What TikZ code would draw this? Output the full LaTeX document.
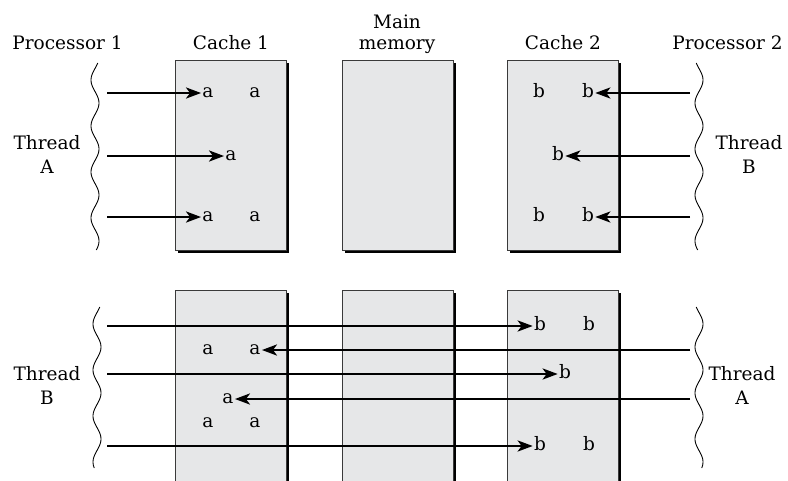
\documentclass[tikz,border=0pt]{standalone}
\usepackage{fontspec}
\setmainfont{DejaVu Serif}
\usetikzlibrary{arrows.meta,shadows}
\definecolor{boxfill}{HTML}{E6E7E8}
\definecolor{boxline}{HTML}{3A3A3A}
\tikzset{
  lbl/.style={font=\fontsize{18.5}{24}\selectfont, inner sep=0pt, anchor=base},
  letter/.style={font=\fontsize{18.5}{24}\selectfont, inner sep=1.2pt, text height=9.6pt, text depth=0pt, anchor=center},
  membox/.style={rectangle, fill=boxfill, draw=boxline, line width=0.9pt, inner sep=0pt, outer sep=0pt,
     minimum width=111pt, general shadow={fill=black, shadow xshift=3pt, shadow yshift=-3pt}},
  topbox/.style={membox, minimum height=190pt},
  botbox/.style={membox, minimum height=200pt},
  arr/.style={line width=2.7pt, -{Stealth[length=15pt,width=11pt,inset=4pt]}},
  wave/.style={line width=0.9pt, black}
}
\begin{document}
\begin{tikzpicture}[x=1pt,y=-1pt]
\useasboundingbox (0,0) rectangle (788,480);
% boxes top
\node[topbox] (c1t) at (230.5,155) {};
\node[topbox] (mmt) at (397.5,155) {};
\node[topbox] (c2t) at (562.5,155) {};
% boxes bottom
\node[botbox] (c1b) at (230.5,390) {};
\node[botbox] (mmb) at (397.5,390) {};
\node[botbox] (c2b) at (562.5,390) {};
% labels
\node[lbl] (p1) at (67.5,49) {Processor 1};
\node[lbl] (lc1) at (231,49) {Cache 1};
\node[lbl] (lmain) at (397,28) {Main};
\node[lbl] (lmem) at (397,49) {memory};
\node[lbl] (lc2) at (563,49) {Cache 2};
\node[lbl] (p2) at (727.5,49) {Processor 2};
\node[lbl] (tA1) at (47,149) {Thread};
\node[lbl] (tA2) at (47,173) {A};
\node[lbl] (tB1) at (749,149) {Thread};
\node[lbl] (tB2) at (749,173) {B};
\node[lbl] (uB1) at (47,380) {Thread};
\node[lbl] (uB2) at (47,404) {B};
\node[lbl] (uA1) at (742,380) {Thread};
\node[lbl] (uA2) at (742,404) {A};
% wavy lines
\draw[wave] plot[domain=63:250, samples=120] ({95-4*sin((\x-68.5)*7.8261)}, \x);
\draw[wave] plot[domain=63:250, samples=120] ({699+4*sin((\x-68.5)*7.8261)}, \x);
\draw[wave] plot[domain=307:468, samples=110] ({97-4*sin((\x-312.5)*7.8261)}, \x);
\draw[wave] plot[domain=307:468, samples=110] ({699+4*sin((\x-312.5)*7.8261)}, \x);
% top letters
\node[letter] (a11) at (208,93) {a};
\node[letter] (a12) at (255,93) {a};
\node[letter] (a2) at (231,156) {a};
\node[letter] (a31) at (208,217) {a};
\node[letter] (a32) at (255,217) {a};
\node[letter] (b11) at (539,93) {b};
\node[letter] (b12) at (588,93) {b};
\node[letter] (b2) at (558,156) {b};
\node[letter] (b31) at (539,217) {b};
\node[letter] (b32) at (588,217) {b};
% top start points
\coordinate (l1) at (107,93);
\coordinate (l2) at (107,156);
\coordinate (l3) at (107,217);
\coordinate (r1) at (690,93);
\coordinate (r2) at (690,156);
\coordinate (r3) at (690,217);
\draw[arr] (l1) -- (a11.west);
\draw[arr] (l2) -- (a2.west);
\draw[arr] (l3) -- (a31.west);
\draw[arr] (r1) -- (b12.east);
\draw[arr] (r2) -- (b2.east);
\draw[arr] (r3) -- (b32.east);
% bottom letters
\node[letter] (ba) at (540,326) {b};
\node[letter] (bb) at (589,326) {b};
\node[letter] (aa1) at (208,350) {a};
\node[letter] (aa2) at (255,350) {a};
\node[letter] (bm) at (565,374) {b};
\node[letter] (am) at (228,399) {a};
\node[letter] (ab1) at (208,423) {a};
\node[letter] (ab2) at (255,423) {a};
\node[letter] (bc1) at (540,446) {b};
\node[letter] (bc2) at (589,446) {b};
% bottom start points
\coordinate (m1) at (107,326);
\coordinate (n2) at (690,350);
\coordinate (m3) at (107,374);
\coordinate (n4) at (690,399);
\coordinate (m5) at (107,446);
\draw[arr] (m1) -- (ba.west);
\draw[arr] (n2) -- (aa2.east);
\draw[arr] (m3) -- (bm.west);
\draw[arr] (n4) -- (am.east);
\draw[arr] (m5) -- (bc1.west);
\end{tikzpicture}
\end{document}
